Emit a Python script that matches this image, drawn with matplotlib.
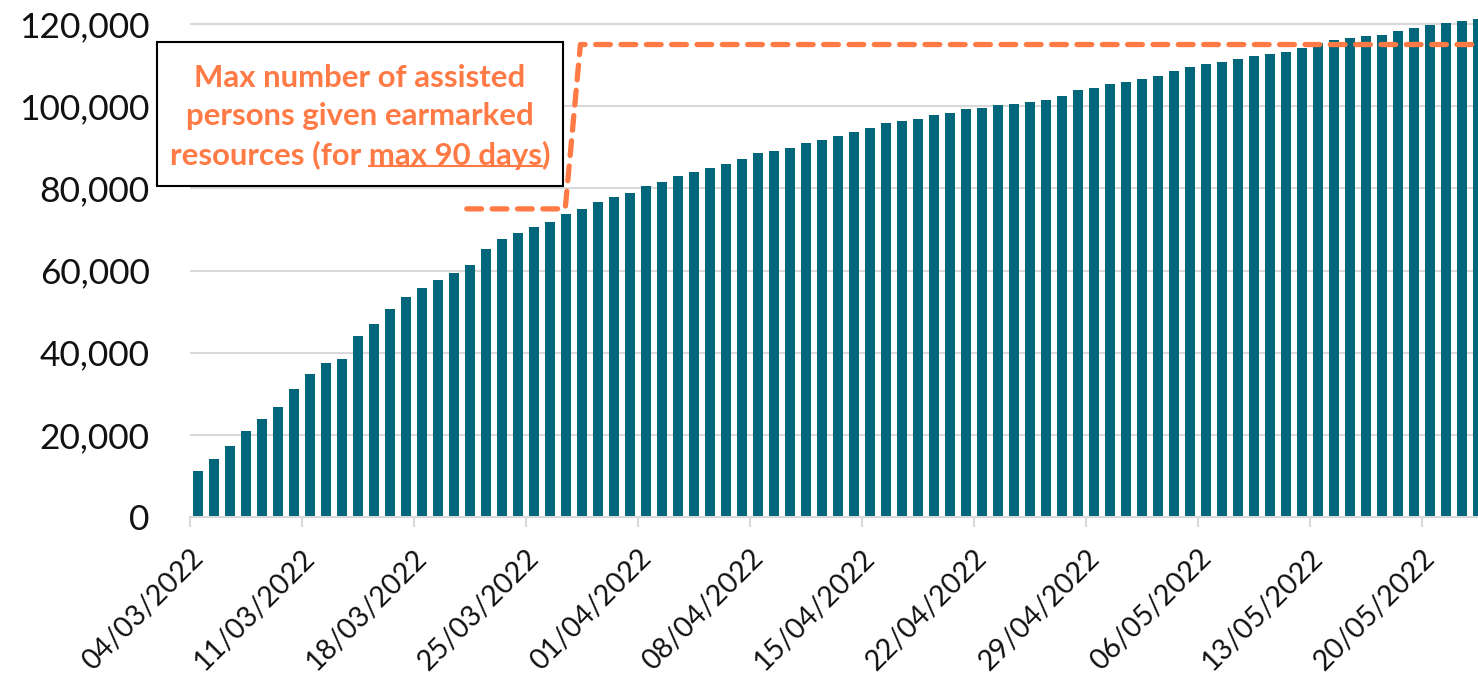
import matplotlib
matplotlib.use("Agg")
import matplotlib.pyplot as plt
import numpy as np
import pandas as pd
from matplotlib.patches import Rectangle
from matplotlib.lines import Line2D

# ---------------- data ----------------
dates = pd.date_range("2022-03-04", "2022-05-23", freq="D")
assisted = [
    11200, 14100, 17300, 21000, 23850, 26700, 31200, 34700, 37400, 38450,
    44000, 47050, 50550, 53500, 55670, 57610, 59470, 61340, 65240, 67760,
    69050, 70590, 71810, 73760, 74980, 76680, 77820, 78870, 80570, 81620,
    83010, 84060, 84960, 86000, 87070, 88480, 89100, 89740, 91040, 91770,
    92620, 93640, 94690, 95830, 96400, 96880, 97860, 98270, 99320, 99640,
    100210, 100610, 101100, 101590, 102480, 103860, 104500, 105320, 105890, 106700,
    107430, 108490, 109470, 110200, 110840, 111410, 112140, 112790, 113270, 114090,
    115310, 116040, 116530, 117010, 117410, 118310, 119120, 119770, 120250, 120820,
    121150,
]
tick_labels = ["04/03/2022", "11/03/2022", "18/03/2022", "25/03/2022",
               "01/04/2022", "08/04/2022", "15/04/2022", "22/04/2022",
               "29/04/2022", "06/05/2022", "13/05/2022", "20/05/2022"]
y_ticks = [0, 20000, 40000, 60000, 80000, 100000, 120000]
# capacity line (category positions, values)
cap_pos = [16.8, 22.95, 23.9, 81.0]
cap_values = [75000, 75000, 115000, 115000]

BAR = "#00677B"
ORANGE = "#FF7A45"
GRID = "#D9D9D9"
FONT = "Lato"
BOX_FS = 22.4

plt.rcParams["font.family"] = [FONT, "DejaVu Sans"]

W, H = 1478, 675
fig = plt.figure(figsize=(W / 100, H / 100), dpi=100)
ax = fig.add_axes([190 / W, 1 - 517 / H, 1 - 190 / W, 517 / H])

x = np.arange(len(assisted))
ax.bar(x, assisted, width=0.68, color=BAR, zorder=2)

ax.set_xlim(-0.5, 80.0)
ax.set_ylim(0, 517 / 493 * 120000)

ax.set_yticks(y_ticks)
ax.set_yticklabels([f"{v:,}" for v in y_ticks])
ax.yaxis.grid(True, color=GRID, linewidth=1.5, zorder=0)
ax.set_axisbelow(True)
ax.tick_params(axis="y", length=0, pad=29, labelsize=25.5, labelcolor="#111111")

tick_idx = [dates.get_loc(pd.Timestamp("-".join(d.split("/")[::-1]))) for d in tick_labels]
ax.set_xticks(np.array(tick_idx) - 0.5)
ax.set_xticklabels(tick_labels, rotation=45, ha="right", rotation_mode="anchor")
ax.tick_params(axis="x", length=7, width=1.5, color=GRID, pad=13,
               labelsize=20.5, labelcolor="#111111")

for s in ["top", "right", "left"]:
    ax.spines[s].set_visible(False)
ax.spines["bottom"].set_color(GRID)
ax.spines["bottom"].set_linewidth(1.5)

# dashed capacity line
ax.plot(cap_pos, cap_values, color=ORANGE, linewidth=3.8, linestyle=(0, (2.8, 2.0)),
        dash_capstyle="round", solid_joinstyle="round", zorder=4, clip_on=False)

# annotation box
fig.patches.append(Rectangle((157 / W, 1 - 186 / H), (563 - 157) / W, (186 - 42) / H,
                             transform=fig.transFigure, facecolor="white",
                             edgecolor="black", linewidth=1.5, zorder=5))
line1 = "Max number of assisted"
line2 = "persons given earmarked"
line3 = "resources (for max 90 days)"
cx, cy = 360 / W, 1 - 117 / H
t = fig.text(cx, cy, "\n".join([line1, line2, line3]), ha="center", va="center",
             multialignment="center", color=ORANGE, fontsize=BOX_FS, fontweight="bold",
             linespacing=1.43, zorder=6)

fig.canvas.draw()
r = fig.canvas.get_renderer()

def width_px(s):
    tmp = fig.text(0, 0, s, fontsize=BOX_FS, fontweight="bold")
    w = tmp.get_window_extent(r).width
    tmp.remove()
    return w

bb = t.get_window_extent(r)
w3 = width_px(line3)
w_ul = width_px("max 90 days")
w_close = width_px(")")
start = cx * W - w3 / 2
x0 = start + w3 - w_close - w_ul
x1 = start + w3 - w_close
y_ul = bb.y0 + 4
fig.lines.append(Line2D([x0 / W, x1 / W], [y_ul / H, y_ul / H], transform=fig.transFigure,
                        color=ORANGE, linewidth=1.5, zorder=7))

fig.savefig("out.png", dpi=100)
